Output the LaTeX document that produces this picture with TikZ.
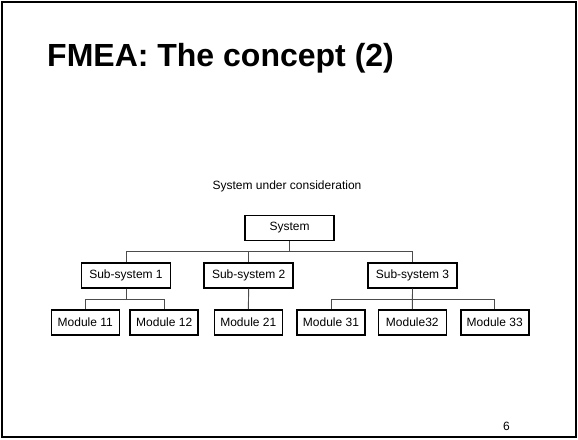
\documentclass[tikz,border=0pt]{standalone}
\usepackage{fontspec}
\setmainfont{Liberation Sans}
\usepackage{tikz}

\tikzset{
  box/.style={draw, line width=1.6pt, minimum height=25pt, minimum width=68pt,
    inner sep=3pt, font=\fontsize{12}{14}\selectfont},
  wide/.style={box, minimum width=89pt},
  link/.style={draw=black!70, line width=0.9pt}
}

\begin{document}
\begin{tikzpicture}[x=1pt, y=-1pt]
    \useasboundingbox (0,0) rectangle (578,439);
    \draw[line width=2pt] (2,2) rectangle (576,437);

    % Title and labels
    \node[anchor=base west, inner sep=0pt, font=\fontsize{32}{38}\selectfont\bfseries] (T) at (47,66) {FMEA: The concept (2)};
    \node[anchor=base, inner sep=0pt, font=\fontsize{12}{14}\selectfont] (C) at (287,189) {System under consideration};
    \node[anchor=base, inner sep=0pt, font=\fontsize{12}{14}\selectfont] (P) at (506.5,430.7) {6};

    % Nodes
    \node[wide](Sys) at (289.5, 228) {System};

    \node[wide](S1) at (126, 275.3) {Sub-system 1};
    \node[wide](S2) at (248.7, 275.3) {Sub-system 2};
    \node[wide](S3) at (412.5, 275.3) {Sub-system 3};

    \node[box](M11) at (85.3, 322.5) {Module 11};
    \node[box](M12) at (164.2, 322.5) {Module 12};
    \node[box](M21) at (248.3, 322.5) {Module 21};
    \node[box](M31) at (331, 322.5) {Module 31};
    \node[box](M32) at (412.3, 322.5) {Module32};
    \node[box](M33) at (494.7, 322.5) {Module 33};

    % Links
    \draw[link] (Sys.south) -- ++(0,10) -| (S1.north);
    \draw[link] (Sys.south) -- ++(0,10) -| (S2.north);
    \draw[link] (Sys.south) -- ++(0,10) -| (S3.north);

    \draw[link] (S1.south) -- ++(0,11) -| (M11.north);
    \draw[link] (S1.south) -- ++(0,11) -| (M12.north);
    \draw[link] (S2.south) -- (M21.north);
    \draw[link] (S3.south) -- ++(0,11) -| (M31.north);
    \draw[link] (S3.south) -- (M32.north);
    \draw[link] (S3.south) -- ++(0,11) -| (M33.north);
  \end{tikzpicture}
\end{document}
